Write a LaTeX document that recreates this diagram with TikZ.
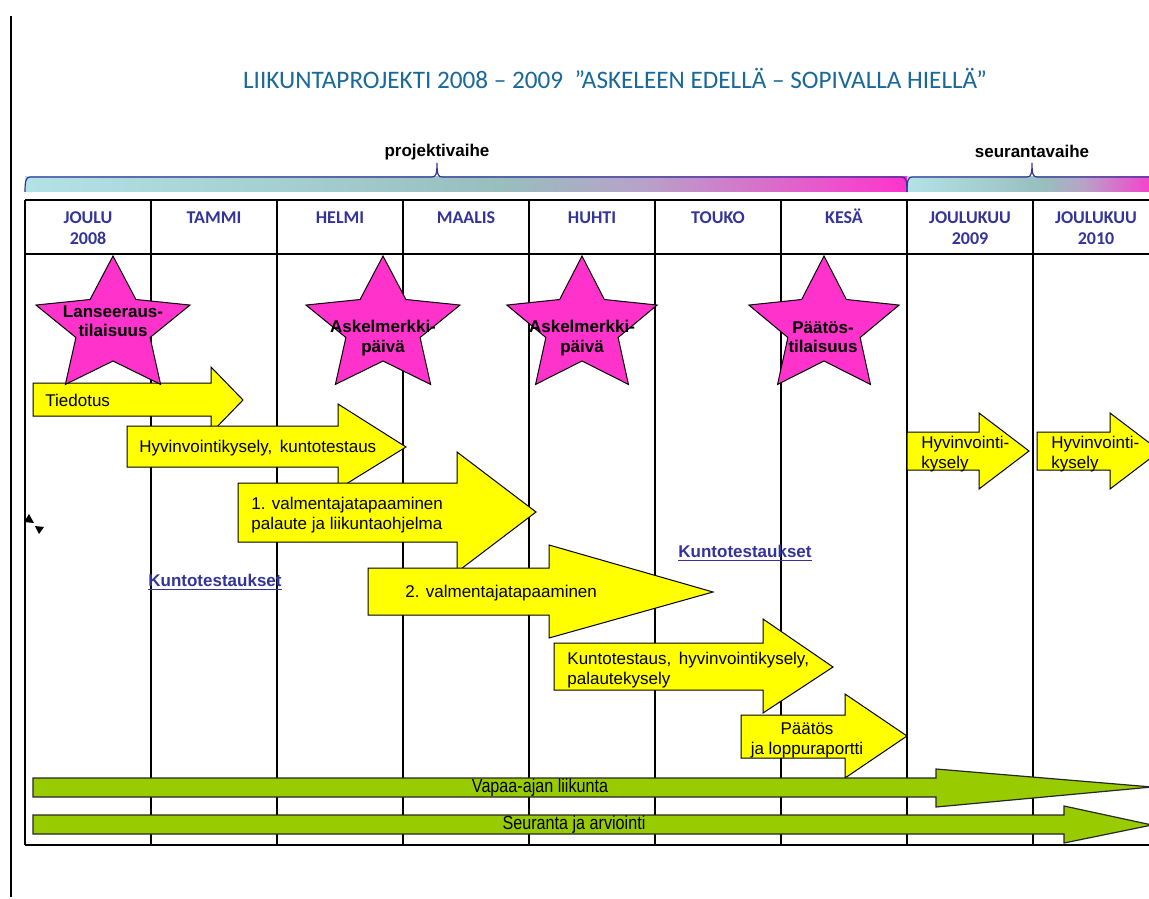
\documentclass[tikz,border=0pt]{standalone}
\usepackage{fontspec}
\setmainfont{Liberation Sans}
\newfontfamily\calibri{Carlito}
\newfontfamily\kapea[FakeStretch=0.85]{Liberation Sans}
\definecolor{keltainen}{HTML}{FFFF00}
\definecolor{vihrea}{HTML}{99CC00}
\definecolor{pinkki}{HTML}{FF33CC}
\definecolor{syaani}{HTML}{B3E2E6}
\definecolor{harmaa}{HTML}{98BEBE}
\definecolor{lila}{HTML}{B7A2C8}
\definecolor{kuukausi}{HTML}{333399}
\definecolor{otsikko}{HTML}{19689A}
\pgfdeclarehorizontalshading{vaihevari}{100bp}{color(0bp)=(syaani); color(25bp)=(syaani); color(52bp)=(harmaa); color(60bp)=(lila); color(75bp)=(pinkki); color(100bp)=(pinkki)}
\begin{document}
\begin{tikzpicture}[x=0.5pt, y=-0.5pt,
	viiva/.style={line width=0.75pt},
	kaari/.style={draw=kuukausi, line width=0.6pt},
	palkki/.style={shading=vaihevari},
	nuoli/.style={draw=black, fill=keltainen, line width=0.5pt},
	vnuoli/.style={draw=black!85, fill=vihrea, line width=0.6pt},
	tahti/.style={draw=black, fill=pinkki, line width=0.5pt},
	kk/.style={font=\calibri\bfseries\fontsize{9}{10.5}\selectfont, text=kuukausi, align=center, inner sep=0pt},
	teksti/.style={font=\fontsize{8.5}{10}\selectfont, align=left, anchor=west, inner sep=0pt},
	tteksti/.style={font=\bfseries\fontsize{8.5}{9.75}\selectfont, align=center, inner sep=0pt},
	vaihe/.style={font=\bfseries\fontsize{8.5}{10}\selectfont, inner sep=0pt},
	linkki/.style={font=\bfseries\fontsize{8.5}{10}\selectfont, text=kuukausi, anchor=west, inner sep=0pt},
	vteksti/.style={font=\kapea\fontsize{9.5}{10}\selectfont, inner sep=0pt}]
	\useasboundingbox (0,0) rectangle (1149,898);
	\clip (0,0) rectangle (1149,898);
	% Reunaviiva
		\draw[viiva] (11,16) -- (11,897);
	% Otsikko
		\node[font=\calibri\fontsize{12.6}{14}\selectfont, text=otsikko, inner sep=0pt] (otsikko) at (615,78) {LIIKUNTAPROJEKTI 2008 – 2009\ \ ”ASKELEEN EDELLÄ – SOPIVALLA HIELLÄ”};
	% Vaiheet
		\shade[palkki] (25,177) rectangle (907,192);
		\shade[palkki] (907,177) rectangle (1160,192);
		\draw[kaari] (25,192) .. controls (25,181) and (26,177) .. (30,177) -- (432,177) .. controls (436,177) and (437,174) .. (437,163) .. controls (437,174) and (438,177) .. (442,177) -- (902,177) .. controls (906,177) and (907,181) .. (907,192);
		\draw[kaari] (907,192) .. controls (907,181) and (908,177) .. (912,177) -- (1027,177) .. controls (1031,177) and (1032,174) .. (1032,163) .. controls (1032,174) and (1033,177) .. (1037,177) -- (1160,177);
		\node[vaihe] (projekti) at (437,152) {projektivaihe};
		\node[vaihe] (seuranta) at (1032,151) {seurantavaihe};
	% Taulukko
		\draw[viiva] (25,200) -- (1160,200);
		\draw[viiva] (25,254) -- (1160,254);
		\draw[viiva] (25,845) -- (1160,845);
		\foreach \x in {25,151,...,1033}
			\draw[viiva] (\x,200) -- (\x,845);
	% Kuukaudet
		\node[kk] (joulu) at (88,228) {JOULU\\2008};
		\node[kk, anchor=base] (tammi) at (214,224) {TAMMI};
		\node[kk, anchor=base] (helmi) at (340,224) {HELMI};
		\node[kk, anchor=base] (maalis) at (466,224) {MAALIS};
		\node[kk, anchor=base] (huhti) at (592,224) {HUHTI};
		\node[kk, anchor=base] (touko) at (718,224) {TOUKO};
		\node[kk, anchor=base] (kesa) at (844,224) {KESÄ};
		\node[kk] (jk09) at (970,228) {JOULUKUU\\2009};
		\node[kk] (jk10) at (1096,228) {JOULUKUU\\2010};
	% Nuolet
		\draw[nuoli] (33,383) -- (211,383) -- (211,367) -- (243,400) -- (211,433) -- (211,416) -- (33,416) -- cycle;
		\node[teksti] (tiedotus) at (45,400) {Tiedotus};
		\draw[nuoli] (127,426) -- (338,426) -- (338,404) -- (406,447) -- (338,489) -- (338,467) -- (127,467) -- cycle;
		\node[teksti] (kysely1) at (139,448) {Hyvinvointikysely,\, kuntotestaus};
		\draw[nuoli] (238,483) -- (457,483) -- (457,452) -- (536,512) -- (457,572) -- (457,542) -- (238,542) -- cycle;
		\node[teksti] (valm1) at (251,515) {1. valmentajatapaaminen\\palaute ja liikuntaohjelma};
		\draw[nuoli] (368,568) -- (549,568) -- (549,545) -- (713,592) -- (549,638) -- (549,615) -- (368,615) -- cycle;
		\node[teksti] (valm2) at (405,593) {2. valmentajatapaaminen};
		\draw[nuoli] (554,643) -- (763,643) -- (763,619) -- (833,667) -- (763,713) -- (763,690) -- (554,690) -- cycle;
		\node[teksti] (kunto) at (567,670) {Kuntotestaus,\, hyvinvointikysely,\\palautekysely};
		\draw[nuoli] (741,715) -- (845,715) -- (845,694) -- (907,736) -- (845,778) -- (845,758) -- (741,758) -- cycle;
		\node[teksti, align=center, anchor=center] (paatos) at (807,740) {Päätös\\ja loppuraportti};
		\draw[nuoli] (907,432) -- (979,432) -- (979,413) -- (1029,451) -- (979,489) -- (979,470) -- (907,470) -- cycle;
		\node[teksti] (kysely09) at (921,454) {Hyvinvointi-\\kysely};
		\draw[nuoli] (1037,432) -- (1110,432) -- (1110,413) -- (1160,451) -- (1110,489) -- (1110,470) -- (1037,470) -- cycle;
		\node[teksti] (kysely10) at (1051,454) {Hyvinvointi-\\kysely};
	% Vihreat nuolet
		\draw[vnuoli] (33,778) -- (936,778) -- (936,769) -- (1152,787) -- (936,807) -- (936,797) -- (33,797) -- cycle;
		\node[vteksti] (vapaa) at (540,788) {Vapaa-ajan liikunta};
		\draw[vnuoli] (33,815) -- (1064,815) -- (1064,806) -- (1152,825) -- (1064,843) -- (1064,834) -- (33,834) -- cycle;
		\node[vteksti] (arvio) at (574,825) {Seuranta ja arviointi};
	% Tahdet
		\draw[tahti, shift={(113,327)}] (-90:81 and 71) \foreach \k in {1,...,4} {-- (-126+72*\k:39 and 34) -- (-90+72*\k:81 and 71)} -- (234:39 and 34) -- cycle;
		\node[tteksti] (lanseeraus) at (113,321) {Lanseeraus-\\tilaisuus};
		\draw[tahti, shift={(383,327)}] (-90:81 and 71) \foreach \k in {1,...,4} {-- (-126+72*\k:39 and 34) -- (-90+72*\k:81 and 71)} -- (234:39 and 34) -- cycle;
		\node[tteksti] (askel1) at (383,338) {Askelmerkki-\\päivä};
		\draw[tahti, shift={(582,327)}] (-90:79 and 71) \foreach \k in {1,...,4} {-- (-126+72*\k:38 and 34) -- (-90+72*\k:79 and 71)} -- (234:38 and 34) -- cycle;
		\node[tteksti] (askel2) at (582,338) {Askelmerkki-\\päivä};
		\draw[tahti, shift={(824,327)}] (-90:79 and 71) \foreach \k in {1,...,4} {-- (-126+72*\k:38 and 34) -- (-90+72*\k:79 and 71)} -- (234:38 and 34) -- cycle;
		\node[tteksti] (paatostilaisuus) at (823,337) {Päätös-\\tilaisuus};
	% Kuntotestaukset
		\node[linkki] (testit1) at (148,582) {\underline{Kuntotestaukset}};
		\node[linkki] (testit2) at (678,553) {\underline{Kuntotestaukset}};
	% Pieni merkki
		\fill (24,522) -- (29,514) -- (34,523) -- cycle;
		\fill (35,526) -- (44,527) -- (39,534) -- cycle;
\end{tikzpicture}
\end{document}
